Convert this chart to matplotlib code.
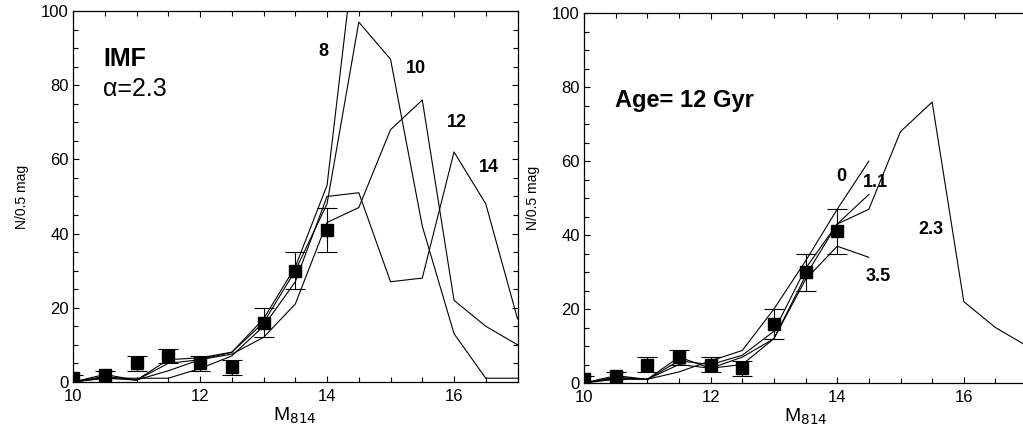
import matplotlib
matplotlib.use("Agg")
import matplotlib.pyplot as plt
import matplotlib.ticker as mticker

plt.rcParams['font.family'] = ['Liberation Sans', 'DejaVu Sans']

# observed luminosity function
obs_mag = [10, 10.5, 11, 11.5, 12, 12.5, 13, 13.5, 14]
obs_n = [1, 2, 5, 7, 5, 4, 16, 30, 41]
obs_err = [1, 1, 2, 2, 2, 2, 4, 5, 6]

# left panel: model ages (Gyr) with IMF alpha = 2.3
mag_full = [10, 10.5, 11, 11.5, 12, 12.5, 13, 13.5, 14, 14.5, 15, 15.5, 16, 16.5, 17]
age8 = [0, 2, 0.5, 6, 6.5, 8, 17, 31, 53, 126]
age10 = [0, 1.5, 0.5, 5, 6, 8, 16, 30, 48, 97, 87, 42, 13, 1, 1]
age12 = [0, 1, 0.5, 3, 6, 7.5, 12, 21, 43, 47, 68, 76, 22, 15, 10]
age14 = [0, 1, 1, 1, 3.6, 7, 15, 27, 50, 51, 27, 28, 62, 48, 17]

# right panel: IMF slopes at age 12 Gyr
imf0 = [0, 2, 1, 3, 6, 8.8, 20, 33, 47, 60]
imf11 = [0, 1.5, 1, 6, 5, 7.5, 14, 31, 43, 51]
imf23 = [0, 1, 1, 5, 4, 7, 12, 29, 43, 47, 68, 76, 22, 15, 10]
imf35 = [0, 1.5, 1, 7, 4, 5, 12, 28, 37, 34]


def style_axes(ax, right=True):
    ax.set_xlim(10, 17)
    ax.set_ylim(0, 100)
    ax.xaxis.set_major_locator(mticker.MultipleLocator(2))
    ax.xaxis.set_minor_locator(mticker.MultipleLocator(0.5))
    ax.yaxis.set_major_locator(mticker.MultipleLocator(20))
    ax.yaxis.set_minor_locator(mticker.MultipleLocator(5))
    ax.tick_params(which='both', direction='in', top=True, right=right, labelsize=12, width=0.8)
    ax.tick_params(which='major', length=4)
    ax.tick_params(which='minor', length=3.5)
    ax.tick_params(axis='x', pad=5)
    ax.tick_params(axis='y', pad=3)
    for s in ax.spines.values():
        s.set_linewidth(0.9)
    ax.set_ylabel("N/0.5 mag", fontsize=10, labelpad=9)
    ax.set_xlabel("M$_{814}$", fontsize=14, labelpad=1)
    ax.errorbar(obs_mag, obs_n, yerr=obs_err, fmt='s', color='black', ms=8.5,
                capsize=7, elinewidth=0.8, capthick=0.8, zorder=3)


fig = plt.figure(figsize=(10.23, 4.34), dpi=100)
ax1 = fig.add_axes([0.0714, 0.120, 0.4345, 0.8547])
ax2 = fig.add_axes([0.5709, 0.1175, 0.4331, 0.8518])

lw = 0.8
for y in [age8, age10, age12, age14]:
    ax1.plot(mag_full[:len(y)], y, color='black', lw=lw)
style_axes(ax1)
ax1.text(10.47, 87, "IMF", fontsize=18, fontweight='bold', va='center')
ax1.text(10.47, 79, "α=2.3", fontsize=18, va='center')
for lab, xx, yy in [("8", 13.94, 89), ("10", 15.4, 84.6), ("12", 16.05, 70), ("14", 16.55, 57.7)]:
    ax1.text(xx, yy, lab, fontsize=13, fontweight='bold', ha='center', va='center')

for y in [imf0, imf11, imf23, imf35]:
    ax2.plot(mag_full[:len(y)], y, color='black', lw=lw)
style_axes(ax2, right=False)
ax2.text(10.49, 76.5, "Age= 12 Gyr", fontsize=17, fontweight='bold', va='center')
for lab, xx, yy in [("0", 14.07, 55.8), ("1.1", 14.6, 54.2), ("2.3", 15.48, 41.6), ("3.5", 14.65, 28.8)]:
    ax2.text(xx, yy, lab, fontsize=13, fontweight='bold', ha='center', va='center')

fig.savefig("out.png", dpi=100)
